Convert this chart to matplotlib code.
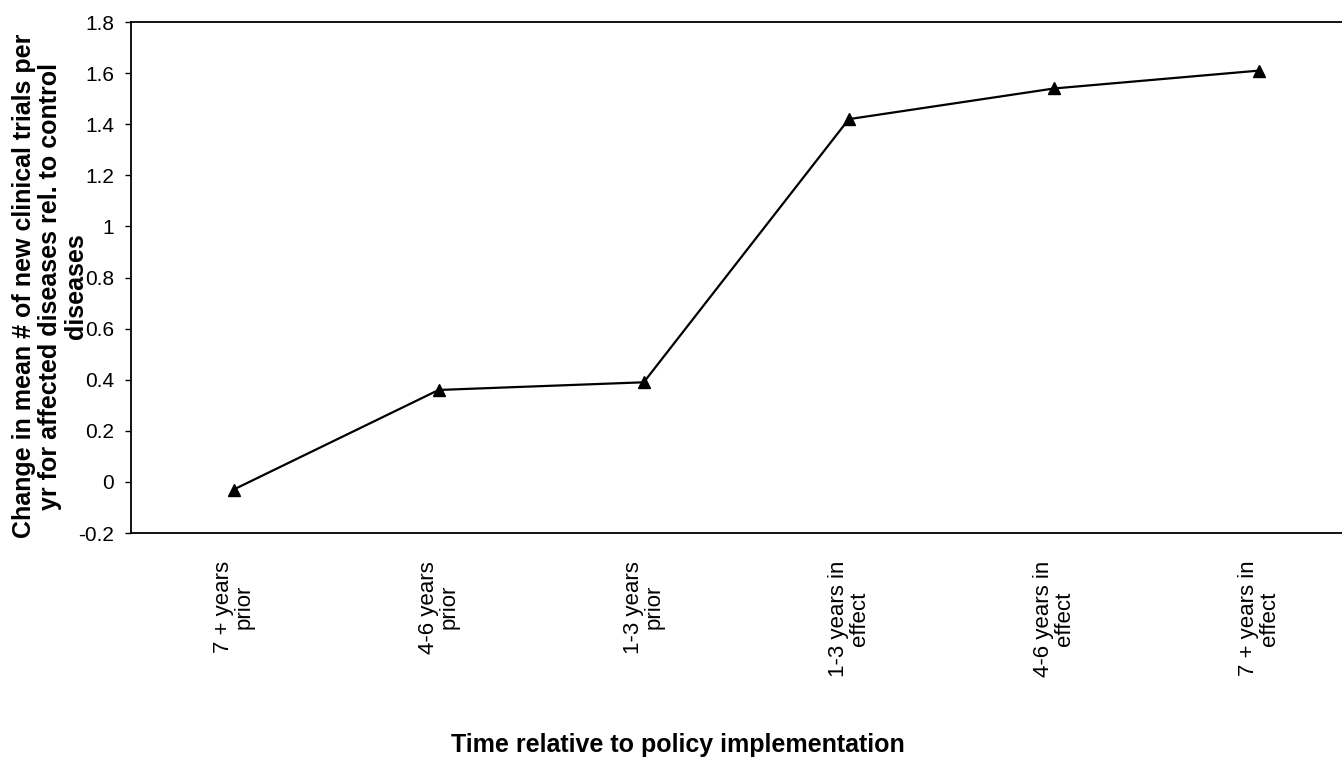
import matplotlib
matplotlib.use("Agg")
import matplotlib.pyplot as plt
from matplotlib import font_manager

# data
periods = ["7 + years\nprior", "4-6 years\nprior", "1-3 years\nprior",
           "1-3 years in\neffect", "4-6 years in\neffect", "7 + years in\neffect"]
change = [-0.03, 0.36, 0.39, 1.42, 1.54, 1.61]
yticks = [-0.2, 0, 0.2, 0.4, 0.6, 0.8, 1, 1.2, 1.4, 1.6, 1.8]
ytick_labels = ["-0.2", "0", "0.2", "0.4", "0.6", "0.8", "1", "1.2", "1.4", "1.6", "1.8"]

y_title = ("Change in mean # of new clinical trials per\n"
           "yr for affected diseases rel. to control\n"
           "diseases")
x_title = "Time relative to policy implementation"

names = {f.name for f in font_manager.fontManager.ttflist}
narrow = "Liberation Sans Narrow" if "Liberation Sans Narrow" in names else "Liberation Sans"
plt.rcParams["font.family"] = [narrow, "DejaVu Sans"]

fig = plt.figure(figsize=(13.42, 7.63), dpi=100)
# plot area runs off the right edge like in the reference
ax = fig.add_axes([0.0976, 0.3014, 0.917, 0.6697])

x = list(range(len(periods)))
ax.plot(x, change, color="black", linewidth=1.6, marker="^",
        markersize=9, markerfacecolor="black", markeredgecolor="black")

ax.set_xlim(-0.5, len(periods) - 0.5)
ax.set_ylim(-0.2, 1.8)
ax.set_yticks(yticks)
ax.set_yticklabels(ytick_labels, fontsize=15)
ax.set_xticks(x)
ax.set_xticklabels(periods, rotation=90, fontsize=16, va="top",
                   ha="center", multialignment="center", linespacing=1.0)

ax.tick_params(axis="y", direction="out", length=4, width=1, pad=8)
ax.tick_params(axis="x", length=0, pad=20)

for side in ["top", "left", "bottom"]:
    ax.spines[side].set_linewidth(1.3)
ax.spines["right"].set_visible(False)

fig.text(0.037, 0.625, y_title, rotation=90, ha="center", va="center",
         multialignment="center", fontsize=18, fontweight="bold",
         linespacing=1.1)
fig.text(0.505, 0.024, x_title, ha="center", va="center",
         fontsize=18, fontweight="bold")

fig.savefig("out.png", dpi=100)
